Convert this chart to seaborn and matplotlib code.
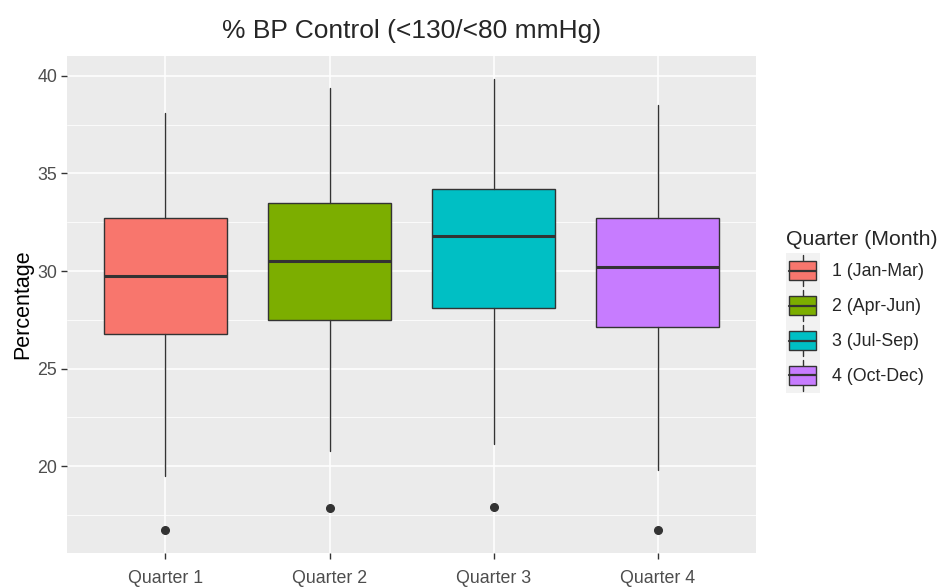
import matplotlib
matplotlib.use("Agg")
import matplotlib.pyplot as plt
import seaborn as sns
from matplotlib.legend_handler import HandlerBase
from matplotlib.patches import Rectangle, Patch
from matplotlib.lines import Line2D

# values
quarters = ["Quarter 1", "Quarter 2", "Quarter 3", "Quarter 4"]
legend_labels = ["1 (Jan-Mar)", "2 (Apr-Jun)", "3 (Jul-Sep)", "4 (Oct-Dec)"]
colors = ["#F8766D", "#7CAE00", "#00BFC4", "#C77CFF"]

whisker_low = [19.50, 20.80, 21.15, 19.80]
q1 = [26.77, 27.51, 28.12, 27.11]
median = [29.76, 30.52, 31.81, 30.20]
q3 = [32.74, 33.50, 34.18, 32.74]
whisker_high = [38.10, 39.37, 39.85, 38.48]
outliers = [[16.73], [17.85], [17.92], [16.73]]

EDGE = "#333333"


class BoxKeyHandler(HandlerBase):
    """mini boxplot glyph like ggplot legend keys"""

    def create_artists(self, legend, orig_handle, xdescent, ydescent,
                       width, height, fontsize, trans):
        x0, y0 = -xdescent, -ydescent
        bg = Rectangle((x0, y0), width, height, facecolor="#F2F2F2",
                       edgecolor="none", transform=trans)
        cx = x0 + width / 2
        whisk = Line2D([cx, cx], [y0 + 0.06 * height, y0 + 0.94 * height],
                       color=EDGE, lw=1.0, transform=trans)
        box = Rectangle((x0 + 0.1 * width, y0 + 0.24 * height),
                        0.8 * width, 0.52 * height,
                        facecolor=orig_handle.get_facecolor(),
                        edgecolor=EDGE, lw=1.0, transform=trans)
        med = Line2D([x0 + 0.1 * width, x0 + 0.9 * width],
                     [y0 + 0.5 * height] * 2, color=EDGE, lw=1.6,
                     transform=trans)
        return [bg, whisk, box, med]


sns.set_theme(style="darkgrid", rc={
    "axes.facecolor": "#EBEBEB",
    "grid.color": "white",
    "xtick.bottom": True,
    "ytick.left": True,
    "xtick.major.size": 4,
    "ytick.major.size": 4,
    "xtick.major.width": 1.0,
    "ytick.major.width": 1.0,
    "xtick.color": EDGE,
    "ytick.color": EDGE,
    "xtick.labelcolor": "#4D4D4D",
    "ytick.labelcolor": "#4D4D4D",
})
plt.rcParams["font.family"] = ["Liberation Sans", "DejaVu Sans"]

fig = plt.figure(figsize=(9.43, 5.88), dpi=100)
ax = fig.add_axes([0.071, 0.06, 0.731, 0.845])

stats = []
for i in range(len(quarters)):
    stats.append({
        "label": quarters[i],
        "whislo": whisker_low[i],
        "q1": q1[i],
        "med": median[i],
        "q3": q3[i],
        "whishi": whisker_high[i],
        "fliers": outliers[i],
    })

bp = ax.bxp(stats, positions=range(len(quarters)), widths=0.75,
            patch_artist=True, showcaps=False,
            boxprops=dict(edgecolor=EDGE, linewidth=1.0),
            medianprops=dict(color=EDGE, linewidth=2.2),
            whiskerprops=dict(color=EDGE, linewidth=1.0),
            flierprops=dict(marker="o", markerfacecolor=EDGE,
                            markeredgecolor=EDGE, markersize=5.5))
for patch, c in zip(bp["boxes"], colors):
    patch.set_facecolor(c)

ax.set_xlim(-0.6, 3.6)
ax.set_ylim(15.57, 41.02)
ax.set_xticks(range(len(quarters)))
ax.set_xticklabels(quarters)
ax.set_yticks([20, 25, 30, 35, 40])
ax.set_yticks([17.5, 22.5, 27.5, 32.5, 37.5], minor=True)
ax.tick_params(which="minor", length=0)
ax.tick_params(which="major", labelsize=12.8, pad=3)
ax.tick_params(axis="x", which="major", pad=8.5)
ax.grid(which="major", color="white", linewidth=1.1)
ax.grid(which="minor", axis="y", color="white", linewidth=0.55)
ax.set_axisbelow(True)
for s in ax.spines.values():
    s.set_visible(False)

ax.set_xlabel("")
ax.set_ylabel("Percentage", fontsize=15.5, color="black", labelpad=3)
ax.set_title("% BP Control (<130/<80 mmHg)", fontsize=19, pad=13)

handles = [Patch(facecolor=c) for c in colors]
leg = fig.legend(handles, legend_labels, title="Quarter (Month)",
                 handler_map={Patch: BoxKeyHandler()},
                 loc="upper left", bbox_to_anchor=(0.8335, 0.609),
                 frameon=False, fontsize=12.8, title_fontsize=15.3,
                 handlelength=1.9, handleheight=2.65, labelspacing=0.0,
                 handletextpad=0.7, borderaxespad=0, borderpad=0)
leg._legend_box.align = "left"
leg._legend_box.sep = 3

fig.savefig("out.png", dpi=100)
